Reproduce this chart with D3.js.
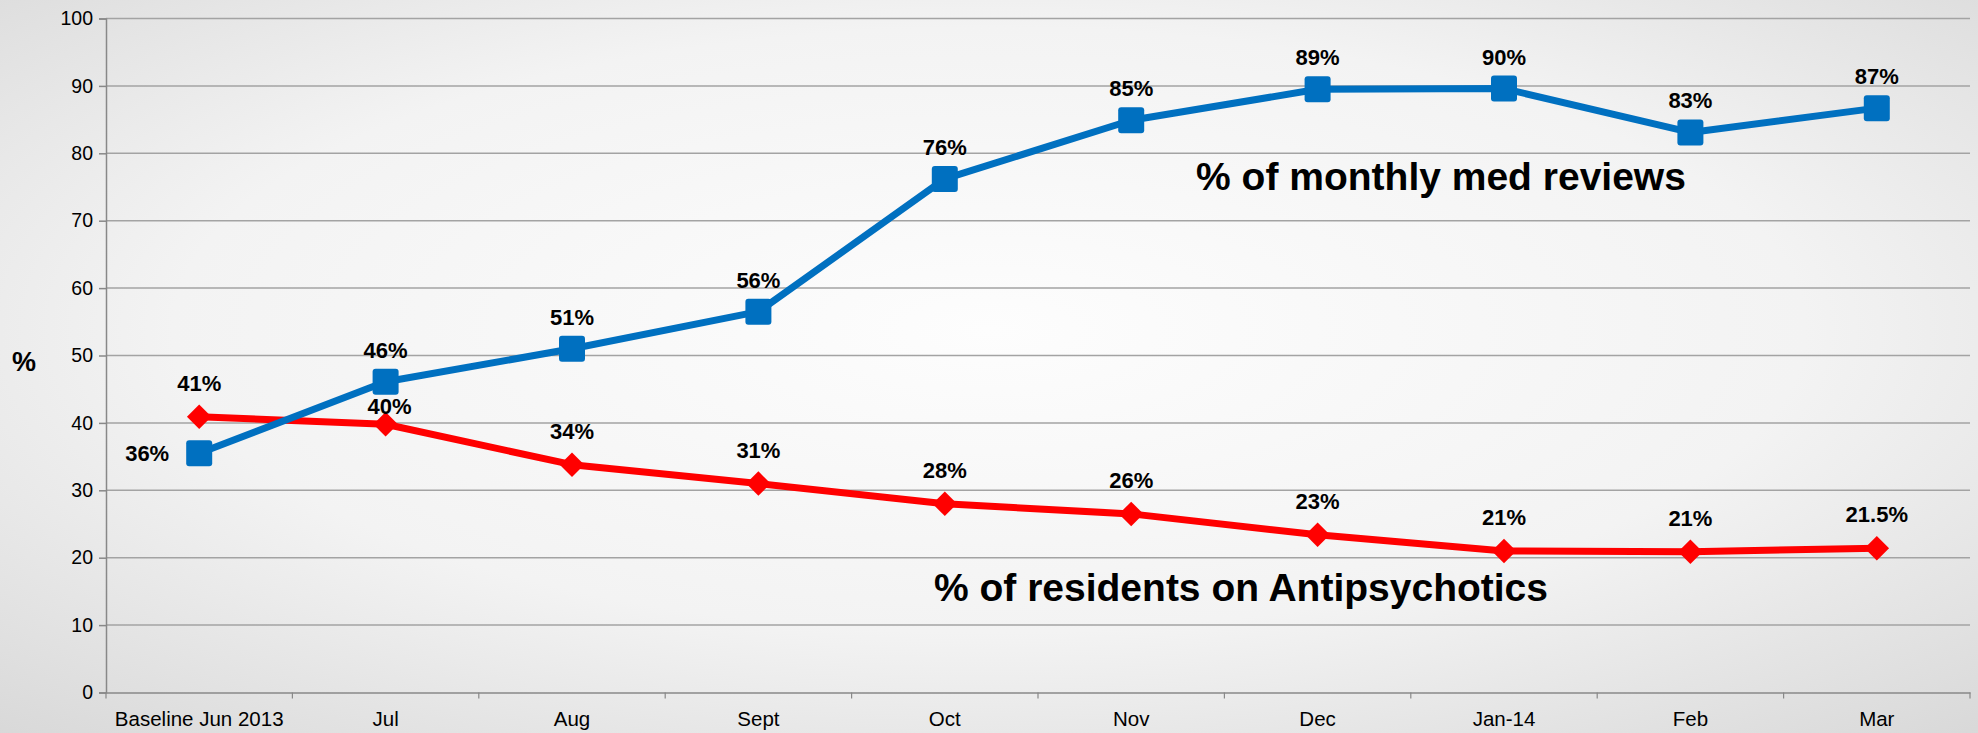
<!DOCTYPE html>
<html>
<head>
<meta charset="utf-8">
<script src="https://cdn.jsdelivr.net/npm/d3@7"></script>
<style>
    html, body {margin: 0; padding: 0; overflow: hidden;}
    body {width: 1978px; height: 733px; font-family: "Liberation Sans", Arial, sans-serif;}
</style>
</head>
<body>
<div id="chart"></div>
<script>
    // months on the x axis
    var months = ["Baseline Jun 2013", "Jul", "Aug", "Sept", "Oct", "Nov", "Dec", "Jan-14", "Feb", "Mar"];
    // % of monthly med reviews (blue)
    var reviews = [35.5, 46.1, 51.0, 56.5, 76.2, 84.9, 89.5, 89.6, 83.1, 86.7];
    var reviewLabels = ["36%", "46%", "51%", "56%", "76%", "85%", "89%", "90%", "83%", "87%"];
    // % of residents on antipsychotics (red)
    var antipsych = [40.9, 39.8, 33.8, 31.0, 28.0, 26.5, 23.4, 21.0, 20.9, 21.4];
    var antipsychLabels = ["41%", "40%", "34%", "31%", "28%", "26%", "23%", "21%", "21%", "21.5%"];
    var yTicks = [0, 10, 20, 30, 40, 50, 60, 70, 80, 90, 100];

    var W = 1978, H = 733;
    var margin = {top: 18.5, right: 8, bottom: 40.5, left: 106};
    var width = W - margin.left - margin.right;
    var height = H - margin.top - margin.bottom;

    var svg = d3.select("#chart").append("svg")
        .attr("width", W)
        .attr("height", H);

    // slide background
    var grad = svg.append("defs").append("radialGradient")
        .attr("id", "bg")
        .attr("cx", "50%").attr("cy", "45%").attr("r", "75%");
    grad.append("stop").attr("offset", "0%").attr("stop-color", "#fdfdfd");
    grad.append("stop").attr("offset", "55%").attr("stop-color", "#f3f3f3");
    grad.append("stop").attr("offset", "100%").attr("stop-color", "#d8d8d8");
    svg.append("rect").attr("width", W).attr("height", H).attr("fill", "url(#bg)");

    var g = svg.append("g")
        .attr("transform", "translate(" + margin.left + "," + margin.top + ")");

    var x = d3.scaleBand().domain(months).range([0, width]);
    var y = d3.scaleLinear().domain([0, 100]).range([height, 0]);
    var cx = function(i){ return x(months[i]) + x.bandwidth() / 2; };

    // gridlines
    g.append("g")
        .selectAll("line")
        .data(yTicks.slice(1))
        .enter().append("line")
        .attr("x1", 0).attr("x2", width)
        .attr("y1", function(d){ return y(d); })
        .attr("y2", function(d){ return y(d); })
        .attr("stroke", "#a3a3a3")
        .attr("stroke-width", 1.5);

    // y axis
    var yAxis = g.append("g")
        .call(d3.axisLeft(y).tickValues(yTicks).tickSize(7).tickPadding(6));
    yAxis.selectAll("text")
        .attr("font-family", "'Liberation Sans', Arial, sans-serif")
        .attr("font-size", "19.5px")
        .attr("fill", "#000");
    yAxis.selectAll("line, path").attr("stroke", "#888").attr("stroke-width", 1.5);

    // x axis, ticks between categories
    var xAxis = g.append("g")
        .attr("transform", "translate(0," + height + ")")
        .call(d3.axisBottom(x).tickSize(0).tickPadding(19));
    xAxis.selectAll("text")
        .attr("font-family", "'Liberation Sans', Arial, sans-serif")
        .attr("font-size", "20.5px")
        .attr("fill", "#000");
    xAxis.select("path").attr("stroke", "#888").attr("stroke-width", 1.5);
    xAxis.selectAll(".sep")
        .data(d3.range(months.length + 1))
        .enter().append("line")
        .attr("class", "sep")
        .attr("x1", function(i){ return i * x.step(); })
        .attr("x2", function(i){ return i * x.step(); })
        .attr("y1", 0).attr("y2", 6)
        .attr("stroke", "#888")
        .attr("stroke-width", 1.2);

    // y axis title
    svg.append("text")
        .attr("x", 24).attr("y", 371)
        .attr("text-anchor", "middle")
        .attr("font-size", "27px")
        .attr("font-weight", "bold")
        .text("%");

    var line = function(vals){
        return d3.line()
            .x(function(d, i){ return cx(i); })
            .y(function(d){ return y(d); })(vals);
    };

    // red series
    g.append("path")
        .attr("d", line(antipsych))
        .attr("fill", "none")
        .attr("stroke", "#ff0000")
        .attr("stroke-width", 7)
        .attr("stroke-linejoin", "round");
    g.selectAll(".diamond")
        .data(antipsych)
        .enter().append("path")
        .attr("class", "diamond")
        .attr("d", d3.symbol().type(d3.symbolSquare).size(300))
        .attr("transform", function(d, i){ return "translate(" + cx(i) + "," + y(d) + ") rotate(45)"; })
        .attr("fill", "#ff0000");

    // blue series
    g.append("path")
        .attr("d", line(reviews))
        .attr("fill", "none")
        .attr("stroke", "#0070c0")
        .attr("stroke-width", 7)
        .attr("stroke-linejoin", "round");
    g.selectAll(".square")
        .data(reviews)
        .enter().append("rect")
        .attr("class", "square")
        .attr("x", function(d, i){ return cx(i) - 13; })
        .attr("y", function(d){ return y(d) - 13; })
        .attr("width", 26).attr("height", 26)
        .attr("rx", 3)
        .attr("fill", "#0070c0");

    // data labels
    function labels(vals, texts, place)
    {
        g.selectAll(null)
            .data(vals)
            .enter().append("text")
            .attr("x", function(d, i){ return cx(i) + place(i).dx; })
            .attr("y", function(d, i){ return y(d) + place(i).dy; })
            .attr("text-anchor", function(d, i){ return place(i).anchor || "middle"; })
            .attr("font-size", "22px")
            .attr("font-weight", "bold")
            .attr("fill", "#000")
            .text(function(d, i){ return texts[i]; });
    }
    labels(reviews, reviewLabels, function(i){
        return i === 0 ? {dx: -30, dy: 8, anchor: "end"} : {dx: 0, dy: -24};
    });
    labels(antipsych, antipsychLabels, function(i){
        return i === 1 ? {dx: 4, dy: -10} : {dx: 0, dy: -26};
    });

    // series annotations
    svg.append("text")
        .attr("x", 1441).attr("y", 190)
        .attr("text-anchor", "middle")
        .attr("font-size", "39px")
        .attr("font-weight", "bold")
        .text("% of monthly med reviews");
    svg.append("text")
        .attr("x", 1241).attr("y", 601)
        .attr("text-anchor", "middle")
        .attr("font-size", "39px")
        .attr("font-weight", "bold")
        .text("% of residents on Antipsychotics");
</script>
</body>
</html>
